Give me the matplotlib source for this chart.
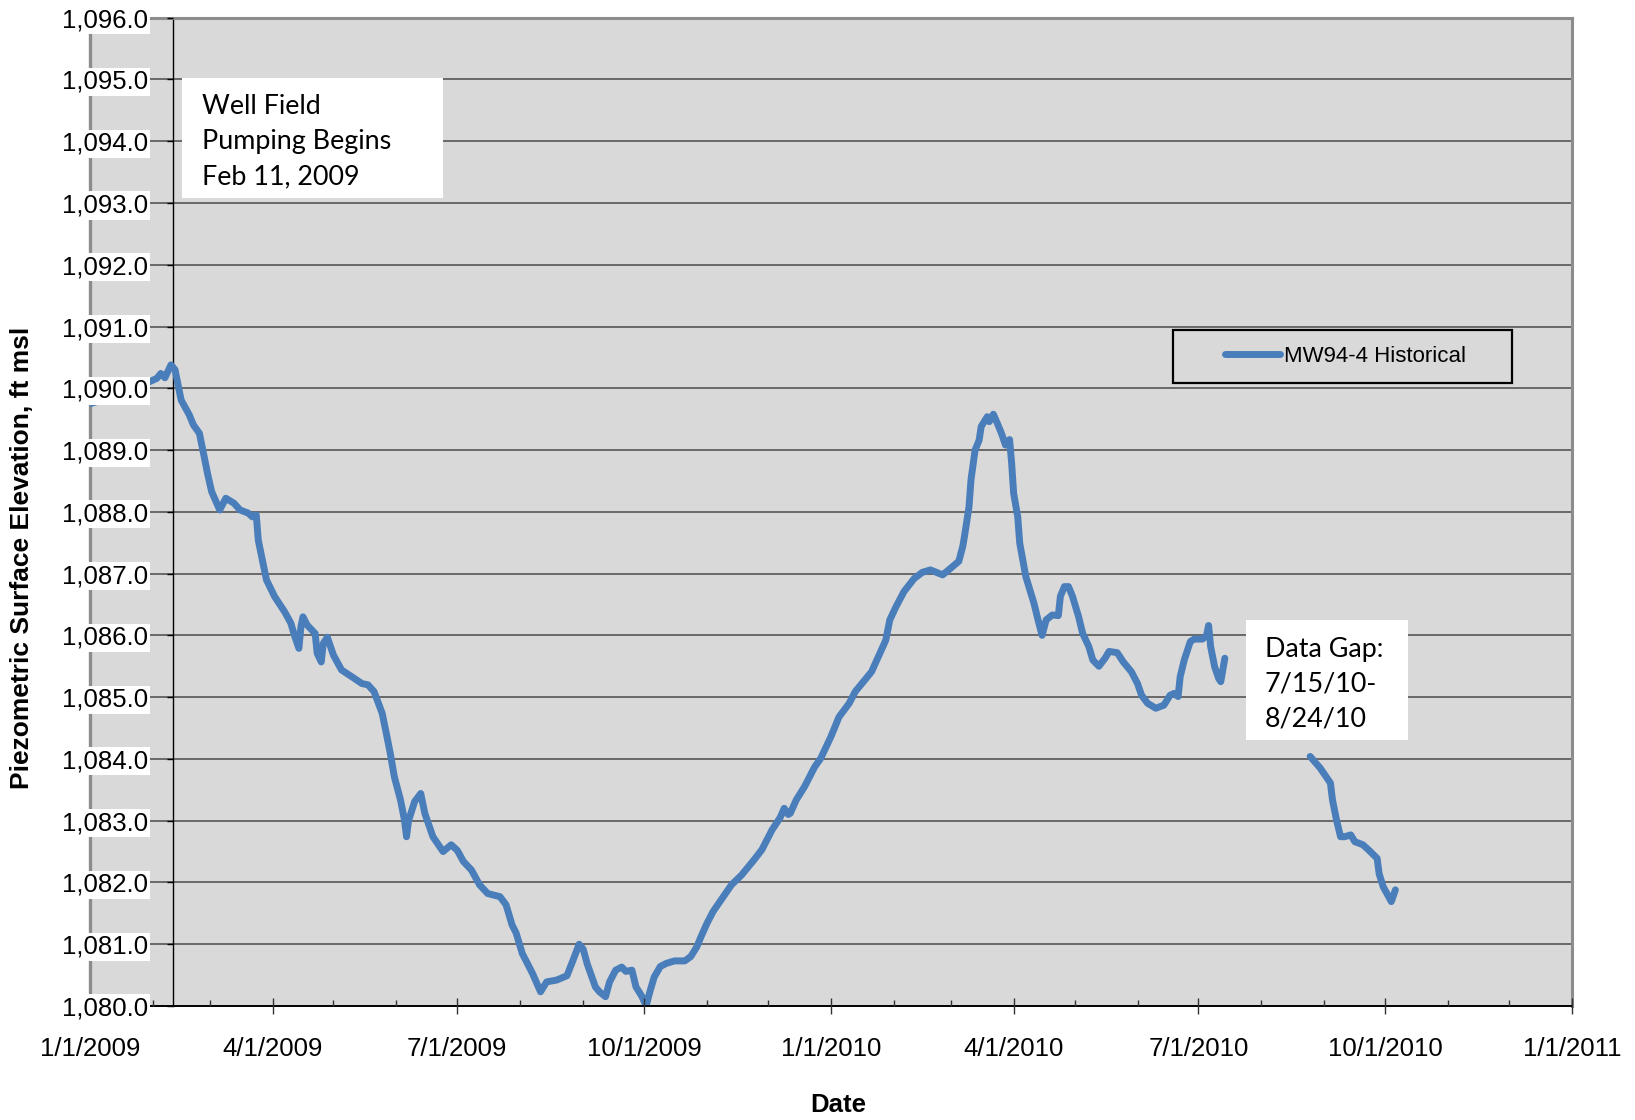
#!/usr/bin/env python3

import matplotlib
matplotlib.use("Agg")
import matplotlib.pyplot as plt
import matplotlib.dates as mdates
import matplotlib.patches as mpatches
import pandas as pd
from matplotlib.ticker import FuncFormatter, FixedLocator

# MW94-4 record before the data gap
dates_a = [
    "2009-01-01", "2009-01-04", "2009-01-09", "2009-01-16", "2009-01-23", "2009-01-30",
    "2009-02-03", "2009-02-05", "2009-02-07", "2009-02-10", "2009-02-12", "2009-02-14",
    "2009-02-15", "2009-02-19", "2009-02-21", "2009-02-24", "2009-02-26", "2009-02-28",
    "2009-03-02", "2009-03-06", "2009-03-09", "2009-03-13", "2009-03-16", "2009-03-20",
    "2009-03-22", "2009-03-24", "2009-03-25", "2009-03-27", "2009-03-29", "2009-04-02",
    "2009-04-07", "2009-04-10", "2009-04-12", "2009-04-14", "2009-04-15", "2009-04-16",
    "2009-04-18", "2009-04-22", "2009-04-23", "2009-04-25", "2009-04-26", "2009-04-28",
    "2009-05-01", "2009-05-05", "2009-05-11", "2009-05-15", "2009-05-18", "2009-05-21",
    "2009-05-25", "2009-05-27", "2009-05-29", "2009-05-31", "2009-06-03", "2009-06-05",
    "2009-06-06", "2009-06-07", "2009-06-10", "2009-06-13", "2009-06-15", "2009-06-19",
    "2009-06-24", "2009-06-28", "2009-07-01", "2009-07-04", "2009-07-08", "2009-07-12",
    "2009-07-16", "2009-07-22", "2009-07-25", "2009-07-28", "2009-07-30", "2009-08-02",
    "2009-08-07", "2009-08-11", "2009-08-14", "2009-08-19", "2009-08-24", "2009-08-27",
    "2009-08-30", "2009-09-01", "2009-09-03", "2009-09-07", "2009-09-09", "2009-09-12",
    "2009-09-14", "2009-09-17", "2009-09-20", "2009-09-22", "2009-09-25", "2009-09-27",
    "2009-09-30", "2009-10-02", "2009-10-04", "2009-10-06", "2009-10-09", "2009-10-12",
    "2009-10-16", "2009-10-21", "2009-10-24", "2009-10-27", "2009-10-29", "2009-11-01",
    "2009-11-04", "2009-11-08", "2009-11-13", "2009-11-18", "2009-11-24", "2009-11-28",
    "2009-12-03", "2009-12-07", "2009-12-09", "2009-12-11", "2009-12-12", "2009-12-15",
    "2009-12-19", "2009-12-24", "2009-12-27", "2010-01-01", "2010-01-05", "2010-01-10",
    "2010-01-13", "2010-01-17", "2010-01-21", "2010-01-24", "2010-01-28", "2010-01-30",
    "2010-02-02", "2010-02-06", "2010-02-11", "2010-02-15", "2010-02-19", "2010-02-22",
    "2010-02-25", "2010-02-28", "2010-03-05", "2010-03-07", "2010-03-08", "2010-03-10",
    "2010-03-11", "2010-03-13", "2010-03-15", "2010-03-16", "2010-03-19", "2010-03-20",
    "2010-03-22", "2010-03-24", "2010-03-26", "2010-03-28", "2010-03-30", "2010-03-31",
    "2010-04-01", "2010-04-03", "2010-04-04", "2010-04-07", "2010-04-11", "2010-04-13",
    "2010-04-15", "2010-04-17", "2010-04-20", "2010-04-23", "2010-04-24", "2010-04-26",
    "2010-04-28", "2010-04-30", "2010-05-03", "2010-05-05", "2010-05-08", "2010-05-10",
    "2010-05-13", "2010-05-16", "2010-05-18", "2010-05-22", "2010-05-25", "2010-05-29",
    "2010-06-01", "2010-06-03", "2010-06-06", "2010-06-10", "2010-06-14", "2010-06-17",
    "2010-06-19", "2010-06-21", "2010-06-22", "2010-06-24", "2010-06-27", "2010-06-29",
    "2010-07-03", "2010-07-05", "2010-07-06", "2010-07-07", "2010-07-09", "2010-07-11",
    "2010-07-12", "2010-07-13", "2010-07-14",
]
elev_a = [
    1089.75, 1089.78, 1089.85, 1089.95, 1090.05, 1090.10,
    1090.16, 1090.24, 1090.17, 1090.38, 1090.30, 1089.97,
    1089.81, 1089.57, 1089.41, 1089.27, 1088.95, 1088.62,
    1088.33, 1088.03, 1088.22, 1088.14, 1088.03, 1087.98,
    1087.92, 1087.95, 1087.54, 1087.22, 1086.90, 1086.63,
    1086.38, 1086.20, 1085.98, 1085.79, 1086.14, 1086.30,
    1086.17, 1086.03, 1085.71, 1085.57, 1085.87, 1085.97,
    1085.68, 1085.44, 1085.31, 1085.22, 1085.20, 1085.09,
    1084.74, 1084.42, 1084.09, 1083.71, 1083.34, 1083.01,
    1082.74, 1083.00, 1083.31, 1083.44, 1083.12, 1082.74,
    1082.50, 1082.61, 1082.52, 1082.34, 1082.20, 1081.96,
    1081.82, 1081.77, 1081.64, 1081.31, 1081.18, 1080.85,
    1080.53, 1080.23, 1080.39, 1080.42, 1080.49, 1080.74,
    1081.00, 1080.92, 1080.68, 1080.31, 1080.23, 1080.15,
    1080.39, 1080.58, 1080.63, 1080.56, 1080.58, 1080.31,
    1080.15, 1080.00, 1080.25, 1080.47, 1080.64, 1080.69,
    1080.73, 1080.73, 1080.80, 1080.96, 1081.12, 1081.34,
    1081.53, 1081.72, 1081.96, 1082.12, 1082.36, 1082.53,
    1082.85, 1083.05, 1083.20, 1083.10, 1083.12, 1083.34,
    1083.55, 1083.87, 1084.01, 1084.36, 1084.68, 1084.90,
    1085.09, 1085.25, 1085.41, 1085.63, 1085.92, 1086.25,
    1086.46, 1086.71, 1086.92, 1087.02, 1087.06, 1087.02,
    1086.98, 1087.06, 1087.20, 1087.45, 1087.65, 1088.08,
    1088.52, 1089.00, 1089.16, 1089.38, 1089.54, 1089.46,
    1089.58, 1089.43, 1089.27, 1089.08, 1089.17, 1088.79,
    1088.30, 1087.92, 1087.49, 1086.95, 1086.52, 1086.25,
    1086.00, 1086.25, 1086.33, 1086.32, 1086.63, 1086.79,
    1086.79, 1086.63, 1086.30, 1086.03, 1085.82, 1085.60,
    1085.50, 1085.63, 1085.74, 1085.72, 1085.57, 1085.41,
    1085.22, 1085.03, 1084.90, 1084.82, 1084.87, 1085.03,
    1085.06, 1085.01, 1085.33, 1085.60, 1085.90, 1085.94,
    1085.94, 1086.00, 1086.16, 1085.82, 1085.49, 1085.30,
    1085.25, 1085.44, 1085.63,
]

# record after the data gap (7/15/10 - 8/24/10)
dates_b = [
    "2010-08-25", "2010-08-30", "2010-09-04", "2010-09-05", "2010-09-07", "2010-09-09",
    "2010-09-11", "2010-09-14", "2010-09-16", "2010-09-20", "2010-09-23", "2010-09-27",
    "2010-09-28", "2010-09-30", "2010-10-04", "2010-10-06",
]
elev_b = [
    1084.04, 1083.85, 1083.61, 1083.34, 1083.01, 1082.74,
    1082.74, 1082.77, 1082.66, 1082.61, 1082.52, 1082.39,
    1082.14, 1081.93, 1081.69, 1081.88,
]

pump_start = "2009-02-11"
x_start, x_end = "2009-01-01", "2011-01-01"
y_ticks = list(range(1080, 1097))

BLUE = "#4A7EBB"
BG = "#D9D9D9"
FRAME = "#8C8C8C"
GRID = "#4A4A4A"

fig = plt.figure(figsize=(16.35, 11.2), dpi=100)
ax = fig.add_axes([0.0549, 0.1018, 0.9066, 0.8824])
ax.set_facecolor(BG)
ax.set_axisbelow(False)  # tick labels (with white patches) sit above the data line

t_a = pd.to_datetime(dates_a)
t_b = pd.to_datetime(dates_b)
line, = ax.plot(t_a, elev_a, color=BLUE, lw=5, solid_joinstyle="round",
                solid_capstyle="round", zorder=2, label="MW94-4 Historical")
ax.plot(t_b, elev_b, color=BLUE, lw=5, solid_joinstyle="round",
        solid_capstyle="round", zorder=2)

ax.set_xlim(pd.Timestamp(x_start), pd.Timestamp(x_end))
ax.set_ylim(y_ticks[0], y_ticks[-1])

# horizontal gridlines under the data line
for y in y_ticks[1:-1]:
    ax.axhline(y, color=GRID, lw=1.1, zorder=1)

# frame: grey top/right/left border, black date axis, vertical axis at pumping start
ax.spines["top"].set_color(FRAME)
ax.spines["top"].set_linewidth(2.2)
ax.spines["right"].set_color(FRAME)
ax.spines["right"].set_linewidth(2.2)
ax.spines["bottom"].set_color("black")
ax.spines["bottom"].set_linewidth(1.4)
ax.spines["left"].set_position(("data", mdates.date2num(pd.Timestamp(pump_start))))
ax.spines["left"].set_color("black")
ax.spines["left"].set_linewidth(1.0)
ax.spines["left"].set_zorder(1.5)
ax.plot([0, 0], [0, 1], transform=ax.transAxes, color=FRAME, lw=2.4,
        clip_on=False, zorder=1.4)

# x axis: quarterly labels, monthly minor ticks
ax.xaxis.set_major_locator(mdates.MonthLocator(bymonth=[1, 4, 7, 10]))
ax.xaxis.set_minor_locator(mdates.MonthLocator())
ax.xaxis.set_major_formatter(FuncFormatter(
    lambda v, p: "{d.month}/{d.day}/{d.year}".format(d=mdates.num2date(v))))
ax.tick_params(axis="x", which="major", direction="inout", length=11, width=1,
               pad=16.5, labelsize=18.5, color="#333333")
ax.tick_params(axis="x", which="minor", direction="in", length=4.5, width=1,
               color="#333333")

# y axis
ax.yaxis.set_major_locator(FixedLocator(y_ticks))
ax.yaxis.set_major_formatter(FuncFormatter(lambda v, p: f"{v:,.1f}"))
ax.tick_params(axis="y", which="major", direction="out", length=4, width=1,
               pad=14, labelsize=18.5)

ax.set_xlabel("Date", fontsize=18.5, fontweight="bold", family="Liberation Sans")
ax.xaxis.set_label_coords(0.505, -0.1000)
ax.xaxis.label.set_va("center")
ax.set_ylabel("Piezometric Surface Elevation, ft msl", fontsize=19, fontweight="bold",
              family="Liberation Sans")
ax.yaxis.set_label_coords(-0.0455, 0.453)
ax.yaxis.label.set_va("center")
ax.yaxis.label.set_ha("center")

# legend with its own box
ax.legend(handles=[line], loc="center left", frameon=False, borderpad=0,
          borderaxespad=0, handlelength=2.48, handletextpad=0.16,
          prop={"family": "Liberation Sans", "size": 16},
          bbox_to_anchor=(1225 / 1635, 1 - 356.5 / 1120), bbox_transform=fig.transFigure)
fig.add_artist(mpatches.Rectangle((1173 / 1635, 1 - 383 / 1120), 339 / 1635, 53 / 1120,
                                  transform=fig.transFigure, fc="none", ec="black", lw=1.6))

# annotation boxes
fig.add_artist(mpatches.Rectangle((182 / 1635, 1 - 198 / 1120), 261 / 1635, 120 / 1120,
                                  transform=fig.transFigure, fc="white", ec="none"))
fig.text(202 / 1635, 1 - 141.5 / 1120, "Well Field\nPumping Begins\nFeb 11, 2009",
         family="Lato", fontsize=19.4, va="center", ha="left", linespacing=1.5)
fig.add_artist(mpatches.Rectangle((1246 / 1635, 1 - 740 / 1120), 162 / 1635, 120 / 1120,
                                  transform=fig.transFigure, fc="white", ec="none"))
fig.text(1265 / 1635, 1 - 684 / 1120, "Data Gap:\n7/15/10-\n8/24/10",
         family="Lato", fontsize=19.4, va="center", ha="left", linespacing=1.5)

# tick labels: Arial-like font, y labels on white patches over the data line
fig.canvas.draw()
for tick in ax.yaxis.get_major_ticks():
    tick.label1.set_bbox(dict(facecolor="white", edgecolor="none", pad=1.5))
    tick.label1.set_fontfamily("Liberation Sans")
for tick in ax.xaxis.get_major_ticks():
    tick.label1.set_fontfamily("Liberation Sans")

fig.savefig("out.png", dpi=100)
